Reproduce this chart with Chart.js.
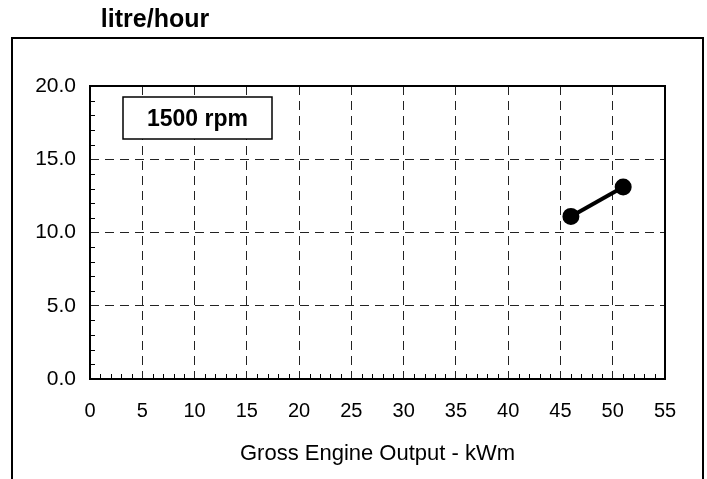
<!DOCTYPE html>
<html>
<head>
<meta charset="utf-8">
<script src="https://cdn.jsdelivr.net/npm/chart.js@4"></script>
<style>
  html, body { margin: 0; padding: 0; background: #fff; }
  #wrap { width: 707px; height: 479px; position: relative; }
</style>
</head>
<body>
<div id="wrap"><canvas id="fuelChart"></canvas></div>
<script>
// fuel consumption at 1500 rpm
const outputKw = [46, 51];
const fuelLph = [11.1, 13.1];
const xTicks = [0, 5, 10, 15, 20, 25, 30, 35, 40, 45, 50, 55];
const yTicks = [0, 5, 10, 15, 20];
const unitLabel = 'litre/hour';
const speedLabel = '1500 rpm';
const xTitle = 'Gross Engine Output - kWm';

const FONT = '"Liberation Sans", Arial, sans-serif';

const points = outputKw.map((x, i) => ({ x: x, y: fuelLph[i] }));

// outer box, plot frame, minor ticks, the rpm label box
const decorPlugin = {
  id: 'decor',
  beforeDraw(chart) {
    const ctx = chart.ctx;
    ctx.save();
    ctx.fillStyle = '#fff';
    ctx.fillRect(0, 0, chart.width, chart.height);
    ctx.strokeStyle = '#000';
    ctx.lineWidth = 2;
    ctx.strokeRect(12, 38, 691, 480);
    ctx.fillStyle = '#000';
    ctx.font = 'bold 25px ' + FONT;
    ctx.textAlign = 'center';
    ctx.textBaseline = 'middle';
    ctx.fillText(unitLabel, 155, 20);
    ctx.restore();
  },
  afterDatasetsDraw(chart) {
    const ctx = chart.ctx;
    const a = chart.chartArea;
    const xs = chart.scales.x;
    const ys = chart.scales.y;
    ctx.save();
    ctx.strokeStyle = '#000';
    ctx.lineWidth = 1;
    ctx.beginPath();
    for (let v = 1; v < 55; v++) {
      if (v % 5 === 0) continue;
      const px = Math.round(xs.getPixelForValue(v)) + 0.5;
      ctx.moveTo(px, a.bottom);
      ctx.lineTo(px, a.bottom - 5);
    }
    for (let v = 1; v < 20; v++) {
      if (v % 5 === 0) continue;
      const py = Math.round(ys.getPixelForValue(v)) + 0.5;
      ctx.moveTo(a.left, py);
      ctx.lineTo(a.left + 5, py);
    }
    ctx.stroke();
    ctx.lineWidth = 2;
    ctx.strokeRect(a.left, a.top, a.right - a.left, a.bottom - a.top);

    // label box
    const bx = a.left + 33, by = a.top + 11, bw = 149, bh = 42;
    ctx.fillStyle = '#fff';
    ctx.fillRect(bx, by, bw, bh);
    ctx.lineWidth = 1.5;
    ctx.strokeRect(bx, by, bw, bh);
    ctx.fillStyle = '#000';
    ctx.font = 'bold 23px ' + FONT;
    ctx.textAlign = 'center';
    ctx.textBaseline = 'middle';
    ctx.fillText(speedLabel, bx + bw / 2, by + bh / 2 + 2);
    ctx.restore();
  }
};

new Chart(document.getElementById('fuelChart'), {
  type: 'scatter',
  data: {
    datasets: [{
      data: points,
      showLine: true,
      borderColor: '#000',
      backgroundColor: '#000',
      borderWidth: 4,
      pointRadius: 6.5,
      pointHoverRadius: 6.5
    }]
  },
  options: {
    responsive: true,
    maintainAspectRatio: false,
    animation: false,
    layout: { padding: { top: 86, right: 42, left: 0, bottom: 0 } },
    plugins: {
      legend: { display: false },
      tooltip: { enabled: false }
    },
    scales: {
      x: {
        type: 'linear',
        min: 0,
        max: 55,
        afterBuildTicks: s => { s.ticks = xTicks.map(v => ({ value: v })); },
        afterFit: s => { s.height = 100; },
        grid: {
          color: '#222',
          lineWidth: 1,
          drawTicks: false
        },
        border: { display: false, dash: [9, 6] },
        ticks: {
          color: '#000',
          font: { family: FONT, size: 20 },
          padding: 20,
          maxRotation: 0
        },
        title: {
          display: true,
          text: xTitle,
          color: '#000',
          font: { family: FONT, size: 22 },
          padding: { top: 0, bottom: 12 }
        }
      },
      y: {
        type: 'linear',
        min: 0,
        max: 20,
        afterBuildTicks: s => { s.ticks = yTicks.map(v => ({ value: v })); },
        afterFit: s => { s.width = 90; },
        grid: {
          color: '#222',
          lineWidth: 1,
          drawTicks: false
        },
        border: { display: false, dash: [9, 6] },
        ticks: {
          color: '#000',
          font: { family: FONT, size: 21 },
          padding: 14,
          callback: v => v.toFixed(1)
        }
      }
    }
  },
  plugins: [decorPlugin]
});
</script>
</body>
</html>
